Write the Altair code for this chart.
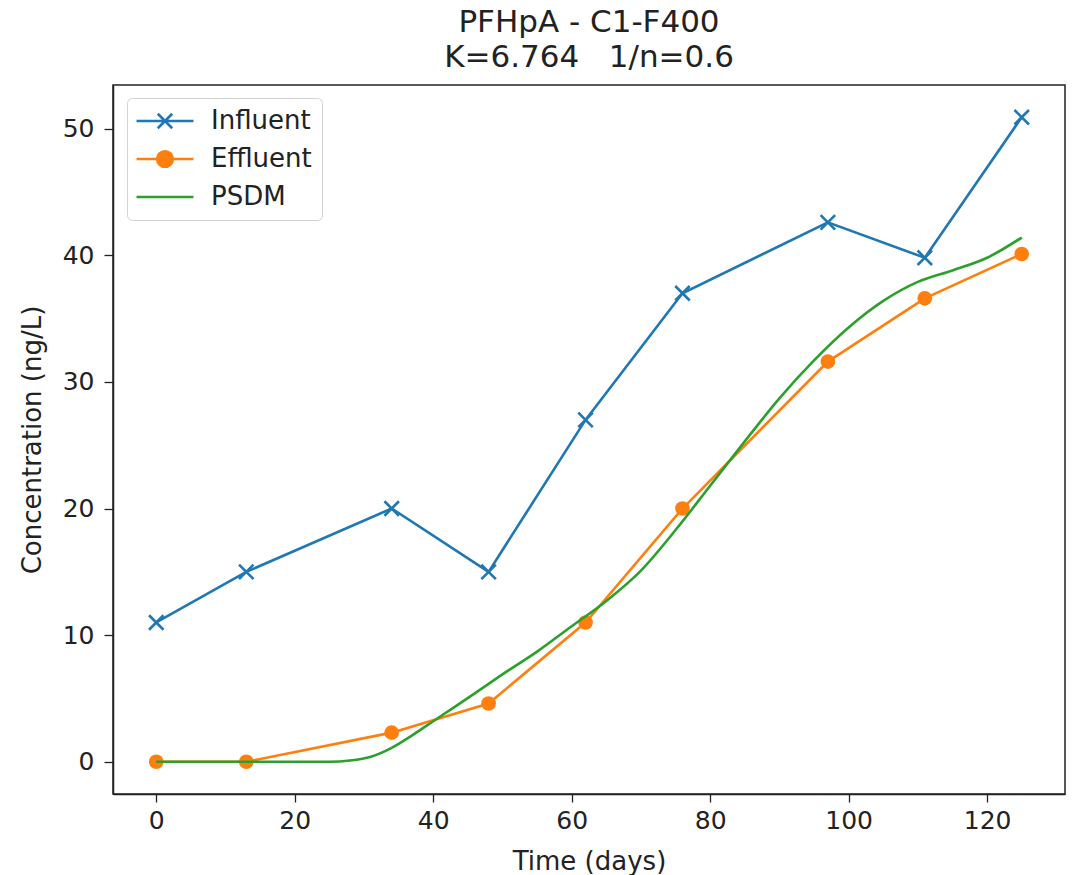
import altair as alt
import pandas as pd

# ---- data ----
days = [0, 13, 34, 48, 62, 76, 97, 111, 125]
influent = [11.0, 15.0, 20.0, 15.0, 27.0, 37.0, 42.6, 39.8, 50.9]
effluent = [0.0, 0.0, 2.3, 4.6, 11.0, 20.0, 31.6, 36.6, 40.1]

psdm_days = [0, 10, 20, 25, 28, 31, 34, 37, 40, 43, 46, 50, 55, 60, 65, 70,
             75, 80, 85, 90, 95, 100, 105, 110, 115, 120, 125]
psdm_vals = [0.0, 0.0, 0.0, 0.0, 0.1, 0.4, 1.1, 2.1, 3.2, 4.3, 5.4, 6.9, 8.7,
             10.7, 12.7, 15.1, 18.3, 21.8, 25.3, 28.7, 31.7, 34.3, 36.4,
             37.9, 38.8, 39.8, 41.4]

series = ["Influent", "Effluent", "PSDM"]
colors = ["#1f77b4", "#ff7f0e", "#2ca02c"]

x_ticks = [0, 20, 40, 60, 80, 100, 120]
y_ticks = [0, 10, 20, 30, 40, 50]

FONT = "DejaVu Sans"
LW = 2.6

obs = pd.DataFrame({"day": days, "Influent": influent, "Effluent": effluent})
psdm = pd.DataFrame({"day": psdm_days, "value": psdm_vals})
legend_df = pd.DataFrame({"series": series})

xs = alt.Scale(domain=[-6.25, 131.25], nice=False, zero=False)
ys = alt.Scale(domain=[-2.545, 53.445], nice=False, zero=False)

X = alt.X("day:Q", scale=xs, title="Time (days)",
          axis=alt.Axis(values=x_ticks, format="d"))

def Y(field):
    return alt.Y(f"{field}:Q", scale=ys, title="Concentration (ng/L)",
                 axis=alt.Axis(values=y_ticks, format="d"))

base = alt.Chart(obs)

inf_line = base.mark_line(color=colors[0], strokeWidth=LW).encode(x=X, y=Y("Influent"))
inf_pts = base.mark_point(shape="M-1,-1L1,1M-1,1L1,-1", filled=False, color=colors[0],
                          strokeWidth=LW, size=210, opacity=1).encode(x=X, y=Y("Influent"))
eff_line = base.mark_line(color=colors[1], strokeWidth=LW).encode(x=X, y=Y("Effluent"))
eff_pts = base.mark_circle(color=colors[1], size=215, opacity=1).encode(x=X, y=Y("Effluent"))
psdm_line = alt.Chart(psdm).mark_line(color=colors[2], strokeWidth=LW,
                                      interpolate="monotone").encode(x=X, y=Y("value"))

# legend glyphs: line with marker in the middle (unit = sqrt(size)/2 px)
def circ(r):
    return f"M{r},0A{r},{r} 0 1,1 {-r},0A{r},{r} 0 1,1 {r},0"

L = 3.35
paths = [
    f"M{-L},0L{L},0M-0.85,-0.85L0.85,0.85M-0.85,0.85L0.85,-0.85",
    f"M{-L},0L{L},0" + circ(0.92) + circ(0.7) + circ(0.48) + circ(0.26) + circ(0.08),
    f"M{-L},0L{L},0",
]

legend_layer = alt.Chart(legend_df).mark_point(filled=False, opacity=1, strokeWidth=LW).encode(
    color=alt.Color("series:N", scale=alt.Scale(domain=series, range=colors),
                    legend=alt.Legend(title=None, orient="none", legendX=14, legendY=13,
                                      symbolSize=289, symbolStrokeWidth=LW,
                                      symbolOffset=15, labelOffset=33,
                                      labelFontSize=26, labelFont=FONT, labelColor="#222",
                                      rowPadding=11, padding=10, cornerRadius=5,
                                      strokeColor="#d3d3d3", fillColor="#ffffff",
                                      labelLimit=300)),
    shape=alt.Shape("series:N", scale=alt.Scale(domain=series, range=paths)),
).transform_filter("false")

chart = alt.layer(
    inf_line, inf_pts, eff_line, eff_pts, psdm_line, legend_layer
).properties(
    width=952, height=709,
    background="white",
    title=alt.TitleParams(["PFHpA - C1-F400", "K=6.764\u00a0\u00a0\u00a01/n=0.6"],
                          font=FONT, fontSize=31, fontWeight="normal", color="#222",
                          lineHeight=35, offset=11, anchor="middle"),
    autosize=alt.AutoSizeParams(type="none"),
    padding={"left": 113, "top": 85, "right": 9, "bottom": 81},
).configure_view(
    stroke="#222", strokeWidth=1.5
).configure_axis(
    grid=False, domainColor="#222", domainWidth=1.5, tickColor="#222", tickWidth=1.3,
    tickSize=9, labelFont=FONT, labelFontSize=25, labelColor="#222",
    titleFont=FONT, titleFontSize=26, titleFontWeight="normal", titleColor="#222"
).configure_axisX(
    tickSize=8, labelPadding=6, titlePadding=15
).configure_axisY(
    labelPadding=10, titlePadding=17
)

chart.save("out.html", embed_options={"renderer": "svg", "actions": False})
